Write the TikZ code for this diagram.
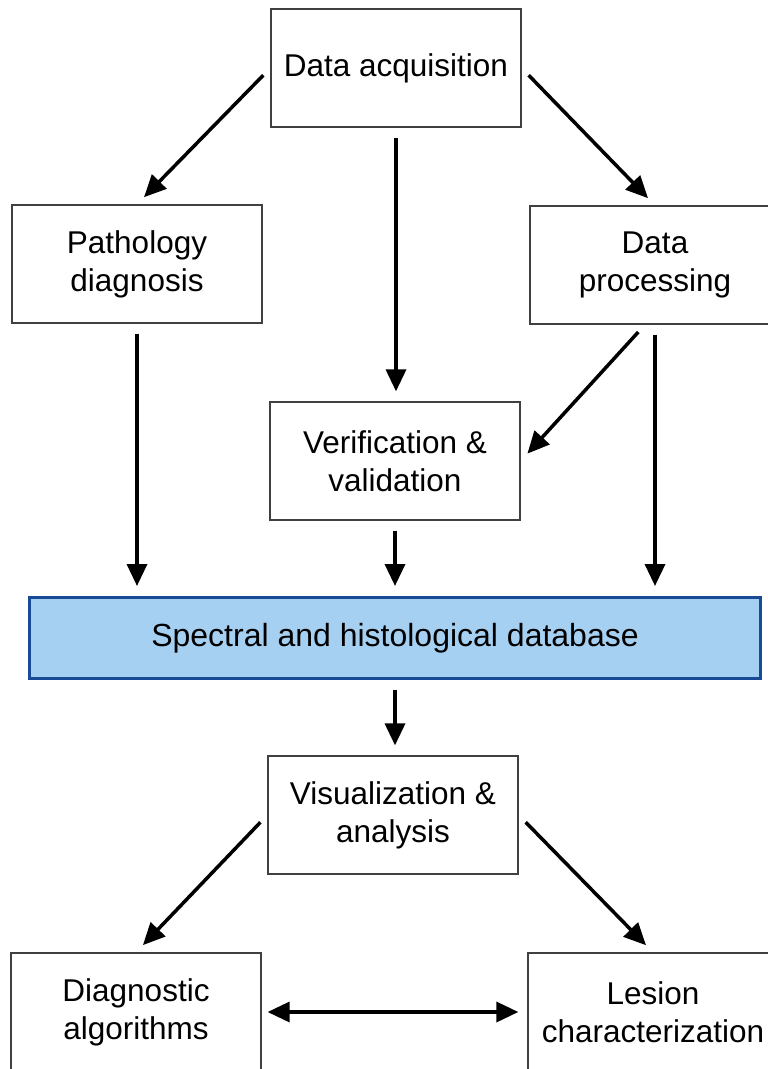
\documentclass[tikz,border=0pt]{standalone}
\usepackage{fontspec}
\setmainfont{Liberation Sans}
\usetikzlibrary{arrows.meta}

\begin{document}
\begin{tikzpicture}[x=1pt,y=-1pt,
  mybox/.style={draw=black!75,line width=1.3pt,minimum width=250pt,minimum height=118pt,
    inner sep=0pt,align=center,font=\fontsize{31.5}{38}\selectfont},
  myarrow/.style={line width=3.5pt,-{Triangle[length=22pt,width=20pt]},shorten <=10pt,shorten >=10pt}]
\definecolor{dbfill}{HTML}{A6D0F2}
\definecolor{dbline}{HTML}{184A95}
\useasboundingbox (0,0) rectangle (768,1069);
\clip (0,0) rectangle (768,1069);
% boxes
\node [mybox] (acq) at (396,68) {Data acquisition};
\node [mybox] (patho) at (137,264) {Pathology\\diagnosis};
\node [mybox] (proc) at (655,265) {Data\\processing};
\node [mybox] (verif) at (395,461) {Verification \&\\validation};
\node [mybox,minimum width=731pt,minimum height=81pt,line width=3pt,draw=dbline,fill=dbfill,
  font=\fontsize{32}{38}\selectfont] (dbase) at (395,638) {Spectral and histological database};
\node [mybox] (visu) at (393,815) {Visualization \&\\analysis};
\node [mybox] (diagalg) at (136,1012) {Diagnostic\\algorithms};
\node [mybox] (lesion) at (653,1012) {Lesion\\characterization};
% arrows
\draw [myarrow] (acq.west) -- (patho.north);
\draw [myarrow] (acq.east) -- (proc.north);
\draw [myarrow] ([xshift=-10pt]proc.south) -- (verif.east);
\draw [myarrow] (visu.west) -- (diagalg.north);
\draw [myarrow] (visu.east) -- (lesion.north);
  \foreach \from/\to in {acq/verif,patho/dbase,proc/dbase,verif/dbase,dbase/visu}
  {  \draw [myarrow] (\from.south) -- (\from.south |- \to.north);}
\draw [myarrow,{Triangle[length=22pt,width=20pt]}-{Triangle[length=22pt,width=20pt]},shorten <=6pt,shorten >=9pt] (diagalg.east) -- (lesion.west);
\end{tikzpicture}
\end{document}
